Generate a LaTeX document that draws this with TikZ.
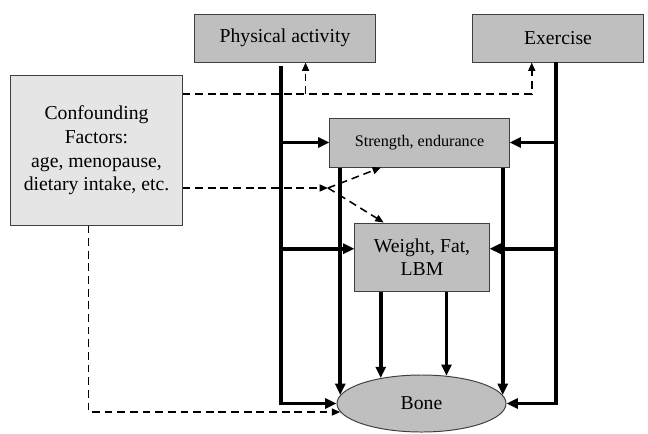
\documentclass[tikz,border=0pt]{standalone}
\usepackage{fontspec}
\setmainfont{Liberation Serif}
\usetikzlibrary{arrows.meta,shapes.geometric}

\begin{document}
\begin{tikzpicture}[x=0.025cm,y=-0.025cm,
		box/.style={draw=black!75,line width=0.7pt,fill=black!25,inner sep=0pt,align=center,font=\fontsize{14}{16.5}\selectfont},
		heavy/.style={line width=2.6pt,-{Triangle[length=8pt,width=7pt]}},
		light/.style={line width=1.1pt,dash pattern=on 5.5pt off 3.5pt,-{Triangle[length=6pt,width=5pt]}}]
				\useasboundingbox (0,0) rectangle (648,433);

				\node[box,minimum width=4.5cm,minimum height=1.2cm] (physical) at (285,38) {Physical activity};
				\node[box,minimum width=4.25cm,minimum height=1.2cm] (exercise) at (558,38) {Exercise};
				\node[box,fill=black!10,minimum width=4.275cm,minimum height=3.725cm,font=\fontsize{14}{16.9}\selectfont] (confound) at (96.5,150.5) {Confounding\\Factors:\\age, menopause,\\dietary intake, etc.};
				\node[box,font=\fontsize{11.5}{13}\selectfont,minimum width=4.475cm,minimum height=1.225cm] (strength) at (419.5,142.5) {Strength, endurance};
				\node[box,minimum width=3.35cm,minimum height=1.7cm] (weight) at (422,257) {Weight, Fat,\\LBM};
				\node[box,ellipse,minimum width=4.225cm,minimum height=1.425cm] (bone) at (421.5,403.5) {Bone};

				\coordinate (pa) at (281,66);
				\coordinate (ex) at (556,62);
				\coordinate (split) at (328,188);

				\draw[heavy] (pa) |- (bone.west);
				\draw[heavy] (ex) |- (bone.east);
				\draw[heavy] (pa |- strength.west) -- (strength.west);
				\draw[heavy] (ex |- strength.east) -- (strength.east);
				\draw[heavy] (pa |- weight.173) -- (weight.173);
				\draw[heavy] (ex |- weight.7) -- (weight.7);
				\draw[heavy] (strength.south -| bone.174) -- (bone.174);
				\draw[heavy] (strength.south -| bone.6) -- (bone.6);
				\draw[heavy] (weight.south -| bone.148) -- (bone.148);
				\draw[heavy] (weight.south -| bone.48) -- (bone.48);

				\draw[light] (confound.east |- 0,94) -| (exercise.223);
				\draw[light] (physical.310 |- 0,94) -- (physical.310);
				\draw[light] (confound.east |- split) -- (split);
				\draw[light] (split) -- (strength.213);
				\draw[light] (split) -- (weight.138);
				\draw[light] (confound.264) |- (bone.186);
			\end{tikzpicture}
\end{document}
